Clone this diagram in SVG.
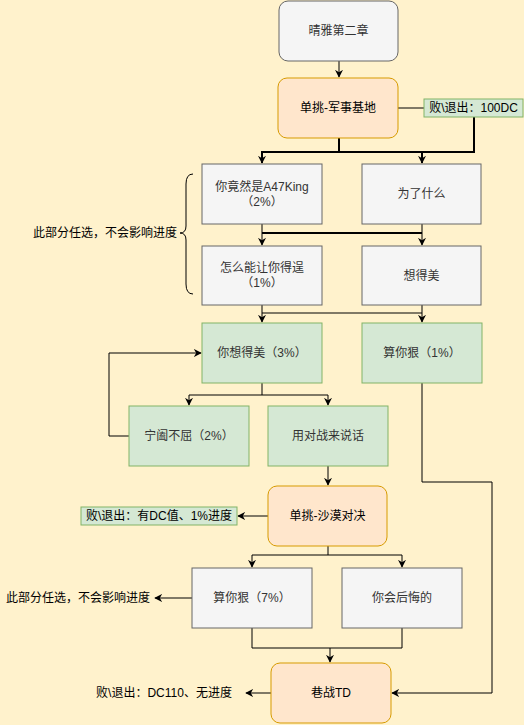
<svg xmlns="http://www.w3.org/2000/svg" width="524" height="725" viewBox="0 0 524 725">
<style>
text{font-family:"Liberation Sans","Noto Sans CJK SC",sans-serif;font-size:12px;text-anchor:middle;dominant-baseline:central}
.g{fill:#f5f5f5;stroke:#666666}
.o{fill:#ffe6cc;stroke:#d79b00}
.gr{fill:#d5e8d4;stroke:#82b366}
.t3{fill:#333333}
.t{fill:#000000}
.c path{fill:none;stroke:#000;stroke-width:1}
.c path.b{stroke-width:2}
</style>
<defs>
<marker id="a" viewBox="0 0 10 10" refX="9" refY="5" markerWidth="8" markerHeight="8" markerUnits="userSpaceOnUse" orient="auto">
<path d="M0,0 L10,5 L0,10 L3,5 Z" fill="#000"/>
</marker>
</defs>
<rect width="524" height="725" fill="#fff2cc"/>
<g class="c">
<path d="M339,61 V77" marker-end="url(#a)"/>
<path d="M398,108 H424"/>
<path class="b" d="M339,138 V152 M474,117 V152 H262 V163" marker-end="url(#a)"/>
<path class="b" d="M422,152 V163" marker-end="url(#a)"/>
<path d="M262,224 V245" marker-end="url(#a)"/>
<path class="b" d="M262,233 H422"/>
<path d="M422,224 V245" marker-end="url(#a)"/>
<path d="M193,174 Q186,174 186,184 V226 Q186,233 180,233 Q186,233 186,240 V284 Q186,294 193,294"/>
<path d="M262,305 V322" marker-end="url(#a)"/>
<path d="M262,313 H422"/>
<path d="M422,305 V322" marker-end="url(#a)"/>
<path d="M262,383 V395 H189 V405" marker-end="url(#a)"/>
<path d="M262,395 H328 V405" marker-end="url(#a)"/>
<path d="M129,436 H109 V353 H201" marker-end="url(#a)"/>
<path d="M328,466 V485" marker-end="url(#a)"/>
<path d="M268,516 H238" marker-end="url(#a)"/>
<path d="M328,546 V555 H252 V567" marker-end="url(#a)"/>
<path d="M328,555 H402 V567" marker-end="url(#a)"/>
<path d="M192,598 H155" marker-end="url(#a)"/>
<path d="M252,628 V648 H402 V628"/>
<path d="M330,648 V662" marker-end="url(#a)"/>
<path d="M271,693 H246" marker-end="url(#a)"/>
<path d="M422,383 V482 H492 V693 H392" marker-end="url(#a)"/>
</g>
<g id="n1"><rect class="g" x="279" y="1" width="119" height="60" rx="9"/><text class="t3" x="338.5" y="31">晴雅第二章</text></g>
<g id="n2"><rect class="o" x="278" y="78" width="120" height="60" rx="9"/><text class="t" x="338" y="108">单挑-军事基地</text></g>
<g id="l1"><rect class="gr" x="424" y="99" width="99" height="18"/><text class="t" x="473.5" y="108">败\退出：100DC</text></g>
<g id="n3"><rect class="g" x="202" y="164" width="120" height="60"/><text class="t3" x="262" y="187">你竟然是A47King</text><text class="t3" x="262" y="202">（2%）</text></g>
<g id="n4"><rect class="g" x="362" y="164" width="119" height="60"/><text class="t3" x="421.5" y="194">为了什么</text></g>
<g id="n5"><rect class="g" x="202" y="246" width="120" height="59"/><text class="t3" x="262" y="268">怎么能让你得逞</text><text class="t3" x="262" y="283">（1%）</text></g>
<g id="n6"><rect class="g" x="362" y="246" width="119" height="59"/><text class="t3" x="421.5" y="275.5">想得美</text></g>
<g id="t1"><text class="t" x="105" y="233">此部分任选，不会影响进度</text></g>
<g id="n7"><rect class="gr" x="202" y="323" width="120" height="60"/><text class="t3" x="262" y="353">你想得美（3%）</text></g>
<g id="n8"><rect class="gr" x="362" y="323" width="120" height="60"/><text class="t3" x="422" y="353">算你狠（1%）</text></g>
<g id="n9"><rect class="gr" x="129" y="406" width="120" height="60"/><text class="t3" x="189" y="436">宁阖不屈（2%）</text></g>
<g id="n10"><rect class="gr" x="268" y="406" width="120" height="60"/><text class="t3" x="328" y="436">用对战来说话</text></g>
<g id="n11"><rect class="o" x="268" y="486" width="119" height="60" rx="9"/><text class="t" x="327.5" y="516">单挑-沙漠对决</text></g>
<g id="l2"><rect class="gr" x="81" y="507" width="156" height="18"/><text class="t" x="159" y="516">败\退出：有DC值、1%进度</text></g>
<g id="n12"><rect class="g" x="192" y="568" width="120" height="60"/><text class="t3" x="252" y="598">算你狠（7%）</text></g>
<g id="n13"><rect class="g" x="342" y="568" width="120" height="60"/><text class="t3" x="402" y="598">你会后悔的</text></g>
<g id="t2"><text class="t" x="78" y="598">此部分任选，不会影响进度</text></g>
<g id="n14"><rect class="o" x="271" y="663" width="120" height="60" rx="9"/><text class="t" x="331" y="693">巷战TD</text></g>
<g id="t3"><text class="t" x="164" y="693">败\退出：DC110、无进度</text></g>
</svg>
